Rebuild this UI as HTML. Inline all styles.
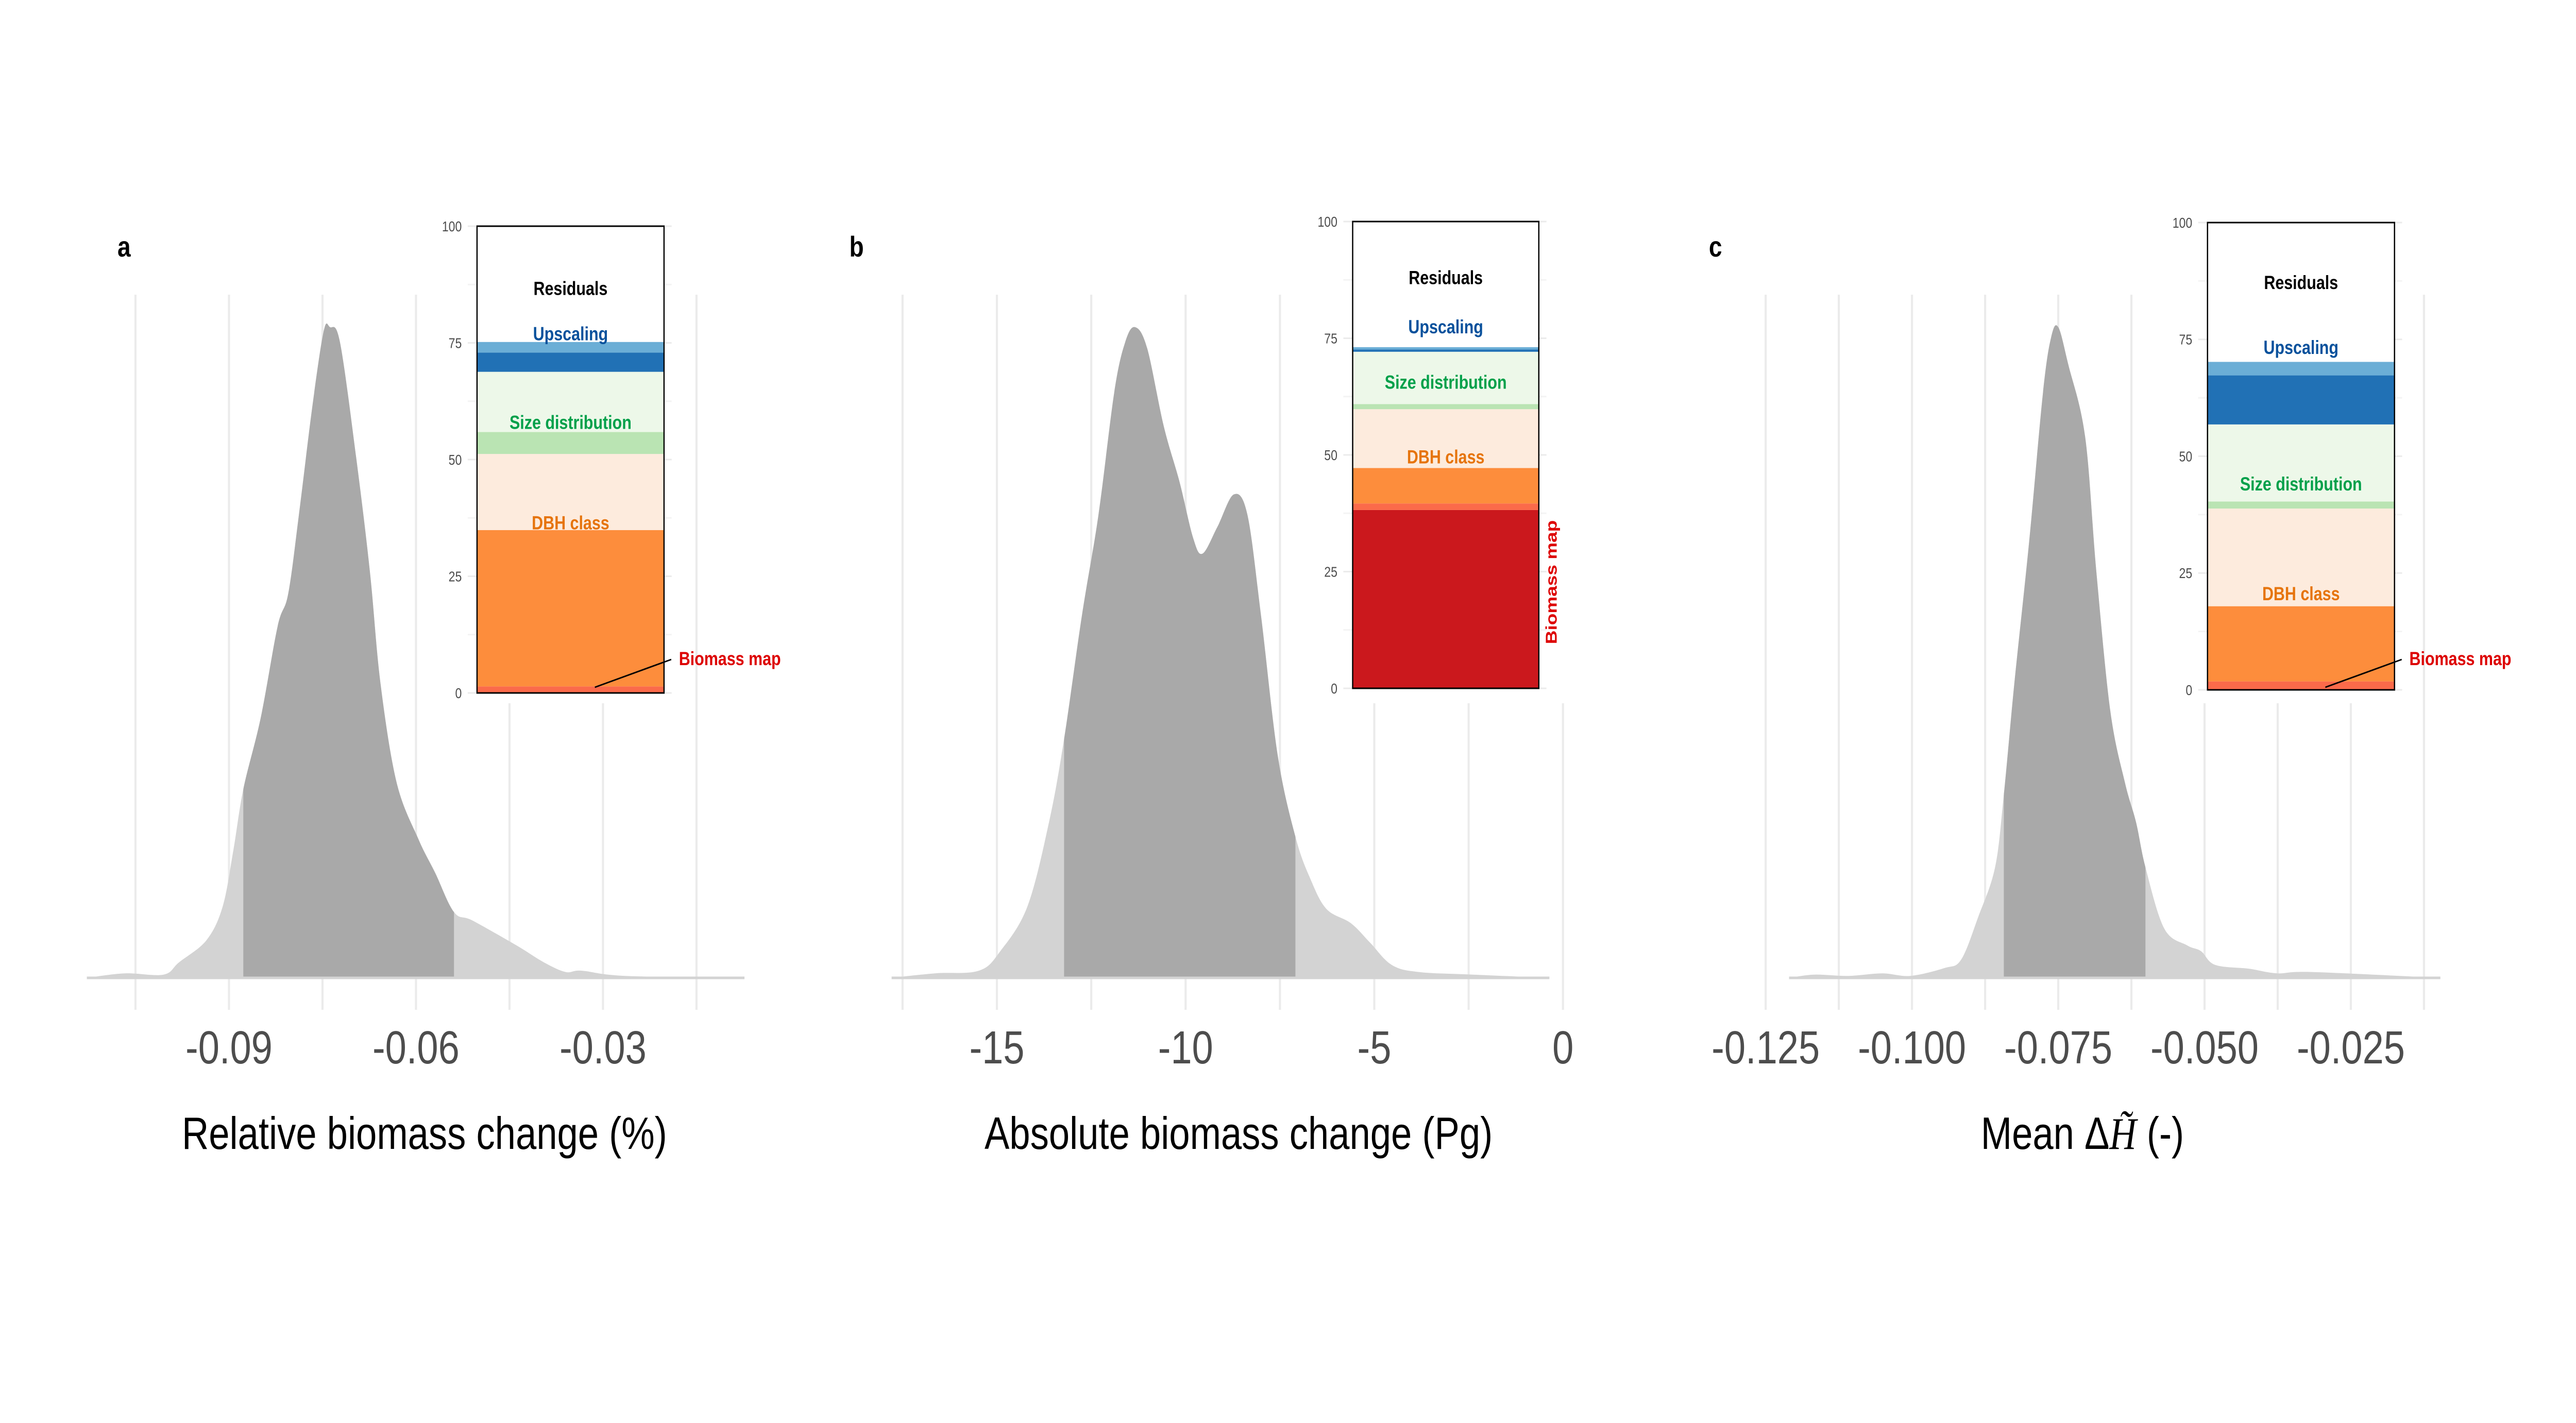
<!DOCTYPE html>
<html><head><meta charset="utf-8"><style>
html,body{margin:0;padding:0;background:#fff;width:100%;height:100%;overflow:hidden;}
svg{display:block;position:absolute;left:0;top:0;width:100vw;height:100vh;}
text{font-family:"Liberation Sans",Arial,sans-serif;}
</style></head><body>
<svg id="fig" viewBox="0 0 6075 2762" preserveAspectRatio="none" overflow="hidden" xmlns="http://www.w3.org/2000/svg">
<rect x="0" y="0" width="6075" height="2762" fill="#fff"/>
</svg>
<script>
// ---- Panel a data ----
const aX = [-0.1128,-0.1067,-0.1005,-0.098,-0.0936,-0.091,-0.0893,-0.0877,-0.0849,-0.0822,-0.0805,-0.0788,-0.0766,-0.0748,-0.0738,-0.0722,-0.0696,-0.0674,-0.0657,-0.0631,-0.0596,-0.0569,-0.0539,-0.0509,-0.0439,-0.0395,-0.036,-0.0334,-0.0264,-0.0073];
const aY = [0,0.007,0.005,0.024,0.058,0.11,0.196,0.29,0.40,0.54,0.59,0.71,0.88,0.994,1.0,0.977,0.80,0.625,0.453,0.30,0.213,0.161,0.101,0.088,0.050,0.024,0.009,0.011,0.003,0];
const aInterval = [-0.0877,-0.0539];
const aTicks = [-0.09,-0.06,-0.03];
const aTickLabels = ["-0.09","-0.06","-0.03"];
const aShares = [0,1.4,33.5,16.3,4.7,12.9,4.1,2.3,24.8];
// ---- Panel b data ----
const bX = [-17.79,-16.64,-15.48,-14.91,-14.19,-13.62,-13.22,-12.75,-12.31,-11.89,-11.60,-11.34,-11.02,-10.58,-10.16,-9.80,-9.55,-9.15,-8.72,-8.36,-8.00,-7.56,-7.09,-6.70,-6.27,-5.62,-5.11,-4.54,-3.82,-2.38,-0.36];
const bY = [0,0.007,0.011,0.041,0.11,0.239,0.367,0.556,0.711,0.90,0.977,1.0,0.968,0.848,0.762,0.676,0.652,0.694,0.743,0.711,0.556,0.342,0.217,0.153,0.106,0.084,0.054,0.020,0.009,0.005,0];
const bInterval = [-13.22,-7.09];
const bTicks = [-15,-10,-5,0];
const bTickLabels = ["-15","-10","-5","0"];
const bShares = [38.2,1.4,7.6,12.6,1.1,11.2,0.5,0.5,26.9];
// ---- Panel c data ----
const cX = [-0.121,-0.1167,-0.1109,-0.1051,-0.1003,-0.0945,-0.0916,-0.0887,-0.0858,-0.0843,-0.0825,-0.08,-0.0776,-0.0762,-0.075,-0.0733,-0.0704,-0.0685,-0.0661,-0.0636,-0.0617,-0.0601,-0.0569,-0.053,-0.0506,-0.0482,-0.0424,-0.0376,-0.0317,-0.0097];
const cY = [0,0.005,0.003,0.007,0.003,0.015,0.028,0.093,0.17,0.282,0.453,0.668,0.90,0.985,1.0,0.943,0.831,0.625,0.41,0.30,0.239,0.17,0.076,0.05,0.041,0.020,0.014,0.007,0.009,0];
const cInterval = [-0.0843,-0.0601];
const cTicks = [-0.125,-0.1,-0.075,-0.05,-0.025];
const cTickLabels = ["-0.125","-0.100","-0.075","-0.050","-0.025"];
const cShares = [0,1.8,16.1,20.9,1.5,16.5,10.5,2.9,29.8];
// ---- shared inset categories ----
const segNames = ["biomass-map-main","biomass-map","dbh-class-main","dbh-class-rest","size-distribution-main","size-distribution-rest","upscaling-main","upscaling-rest","residuals"];
const segColors = ["#cb181d","#fb6a4a","#fd8d3c","#fdebdd","#bae4b3","#edf8e9","#2171b5","#6baed6","#ffffff"];
const insetTicks = [0,25,50,75,100];

const NS="http://www.w3.org/2000/svg";
const svg=document.getElementById('fig');
function el(tag,attrs,parent){const e=document.createElementNS(NS,tag);for(const k in attrs)e.setAttribute(k,attrs[k]);(parent||svg).appendChild(e);return e;}

function smoothPath(pts){
  let d="M"+pts[0][0]+","+pts[0][1];
  for(let i=0;i<pts.length-1;i++){
    const p0=pts[Math.max(0,i-1)],p1=pts[i],p2=pts[i+1],p3=pts[Math.min(pts.length-1,i+2)];
    const c1x=p1[0]+(p2[0]-p0[0])/6,c1y=p1[1]+(p2[1]-p0[1])/6;
    const c2x=p2[0]-(p3[0]-p1[0])/6,c2y=p2[1]-(p3[1]-p1[1])/6;
    d+=" C"+c1x.toFixed(1)+","+c1y.toFixed(1)+" "+c2x.toFixed(1)+","+c2y.toFixed(1)+" "+p2[0].toFixed(1)+","+p2[1].toFixed(1);
  }
  return d;
}

function panel(cfg){
  const g=el('g',{});
  
  
  const sx=v=>cfg.x0+(v-cfg.v0)/cfg.dv*cfg.dx;
  const base=1898, hPeak=1263;
  const sy=d=>base-d*hPeak;
  const step=cfg.dv/2;
  for(let v=cfg.gridStart; v<=cfg.gridEnd+1e-9; v+=step){
    const x=sx(v);
    const gl=el('line',{x1:x,x2:x,y1:572,y2:1960,stroke:'#ebebeb','stroke-width':5},g);
    
    
  }
  const pts=cfg.xs.map((v,i)=>[sx(v),sy(cfg.ys[i])]);
  const d=smoothPath(pts)+" L"+pts[pts.length-1][0]+","+base+" L"+pts[0][0]+","+base+" Z";
  const light=el('path',{d:d,fill:'#d3d3d3'},g);
  
  
  const cp=el('clipPath',{id:'clip-'+cfg.id},g);
  el('rect',{x:sx(cfg.interval[0]),y:0,width:sx(cfg.interval[1])-sx(cfg.interval[0]),height:base+2},cp);
  const dark=el('path',{d:d,fill:'#a9a9a9','clip-path':'url(#clip-'+cfg.id+')'},g);
  
  
  const bl=el('line',{x1:pts[0][0],x2:pts[pts.length-1][0],y1:base,y2:base,stroke:'#d3d3d3','stroke-width':5},g);
  
  
  cfg.ticks.forEach((v,i)=>{
    const t=el('text',{x:sx(v),y:2064,'font-size':90,fill:'#4d4d4d','text-anchor':'middle'},g);
    t.textContent=cfg.tickLabels[i];
    
    
  });
  const pl=el('text',{x:cfg.letterX,y:498,'font-size':56,'font-weight':'bold',fill:'#000'},g);
  pl.textContent=cfg.id;
  
  
  const bg=el('rect',{x:cfg.bx0-90,y:385,width:cfg.bx1-cfg.bx0+150,height:980,fill:'#fff'},g);
  
  
  const iy=v=>cfg.yb-(cfg.yb-cfg.yt)*v/100;
  for(let v=12.5;v<100;v+=25){
    const m=el('line',{x1:cfg.bx0-22,x2:cfg.bx1+18,y1:iy(v),y2:iy(v),stroke:'#f4f4f4','stroke-width':3},g);
    
    
  }
  insetTicks.forEach(v=>{
    const l=el('line',{x1:cfg.bx0-22,x2:cfg.bx1+18,y1:iy(v),y2:iy(v),stroke:'#ebebeb','stroke-width':3},g);
    
    
    const t=el('text',{x:cfg.bx0-36,y:iy(v)+10,'font-size':28,fill:'#4d4d4d','text-anchor':'end'},g);
    t.textContent=String(v);
    
    
  });
  let acc=0;
  cfg.shares.forEach((s,i)=>{
    if(s<=0)return;
    const r=el('rect',{x:cfg.bx0,y:iy(acc+s),width:cfg.bx1-cfg.bx0,height:iy(acc)-iy(acc+s),fill:segColors[i]},g);
    
    
    acc+=s;
  });
  const box=el('rect',{x:cfg.bx0,y:cfg.yt,width:cfg.bx1-cfg.bx0,height:cfg.yb-cfg.yt,fill:'none',stroke:'#000','stroke-width':3},g);
  
  
  const cx=(cfg.bx0+cfg.bx1)/2;
  const labs=[["Residuals","#000",cfg.labY[0],'residuals-label'],["Upscaling","#08519c",cfg.labY[1],'upscaling-label'],["Size distribution","#00a04a",cfg.labY[2],'size-distribution-label'],["DBH class","#e6740c",cfg.labY[3],'dbh-class-label']];
  labs.forEach(L=>{
    const t=el('text',{x:cx,y:iy(L[2])+13,'font-size':37,'font-weight':'bold',fill:L[1],'text-anchor':'middle'},g);
    t.textContent=L[0];
    
    
  });
  if(cfg.rotBiomass){
    const t=el('text',{x:0,y:0,'font-size':37,'font-weight':'bold',fill:'#dd0000','text-anchor':'middle',transform:'translate('+(cfg.bx1+42)+',1130) rotate(-90)'},g);
    t.textContent="Biomass map";
    
    
  } else {
    const ln=el('line',{x1:cfg.bx0+(cfg.bx1-cfg.bx0)*0.63,y1:1334,x2:cfg.bx1+17,y2:1280,stroke:'#000','stroke-width':3},g);
    
    
    const t=el('text',{x:cfg.bx1+35,y:1291,'font-size':37,'font-weight':'bold',fill:'#dd0000'},g);
    t.textContent="Biomass map";
    
    
  }
  const tt=el('text',{x:cfg.titleX,y:2230,'font-size':88,fill:'#000','text-anchor':'middle'},g);
  
  
  if(cfg.titleMath){
    tt.appendChild(document.createTextNode("Mean Δ"));
    const ts=el('tspan',{'font-family':'"Liberation Serif",serif','font-style':'italic'},tt);
    ts.textContent="H̃";
    tt.appendChild(document.createTextNode(" (-)"));
  } else tt.textContent=cfg.title;
}

panel({id:'a',x0:540,v0:-0.09,dv:0.03,dx:441,gridStart:-0.105,gridEnd:-0.015,xs:aX,ys:aY,interval:aInterval,ticks:aTicks,tickLabels:aTickLabels,letterX:277,bx0:1125,bx1:1566,yt:439,yb:1345,shares:aShares,labY:[86.7,77,58,36.5],title:"Relative biomass change (%)",titleX:1001});
panel({id:'b',x0:2351,v0:-15,dv:5,dx:445,gridStart:-17.5,gridEnd:0,xs:bX,ys:bY,interval:bInterval,ticks:bTicks,tickLabels:bTickLabels,letterX:2003,bx0:3190,bx1:3629,yt:430,yb:1336,shares:bShares,labY:[88,77.5,65.6,49.6],rotBiomass:true,title:"Absolute biomass change (Pg)",titleX:2921});
panel({id:'c',x0:4164,v0:-0.125,dv:0.025,dx:345,gridStart:-0.125,gridEnd:-0.0125,xs:cX,ys:cY,interval:cInterval,ticks:cTicks,tickLabels:cTickLabels,letterX:4030,bx0:5206,bx1:5647,yt:432,yb:1339,shares:cShares,labY:[87.2,73.3,44.1,20.6],titleMath:true,titleX:4911});
</script>
</body></html>
